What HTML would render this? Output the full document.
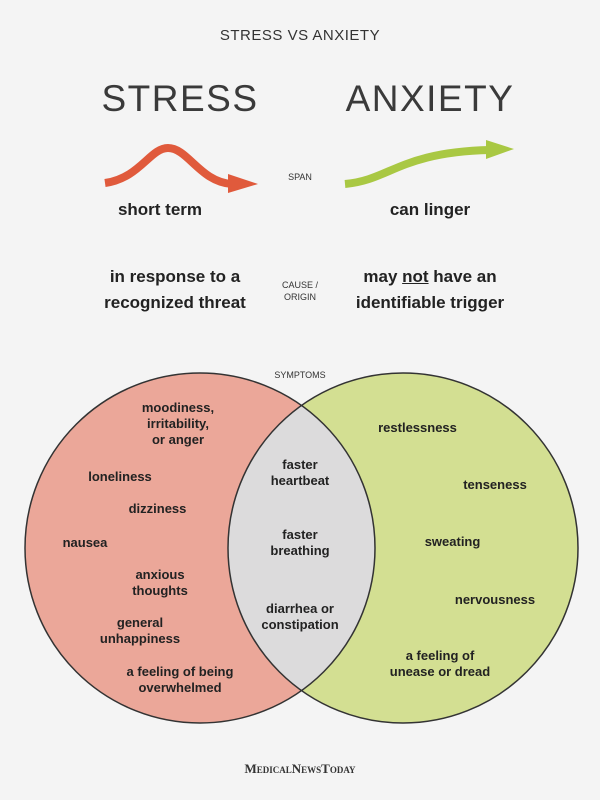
<!DOCTYPE html>
<html><head><meta charset="utf-8"><style>
html,body{margin:0;padding:0;background:#f4f4f4;}
body{width:600px;height:800px;position:relative;overflow:hidden;font-family:"Liberation Sans",sans-serif;color:#222;}
.t{position:absolute;text-align:center;white-space:nowrap;}
.b{font-weight:bold;}
</style></head><body>
<div class="t" style="left:0;width:600px;top:27px;font-size:15px;letter-spacing:0.5px;color:#333">STRESS VS ANXIETY</div>
<div class="t" style="left:80px;width:200px;top:78px;font-size:37px;letter-spacing:1.5px;color:#3a3a3a">STRESS</div>
<div class="t" style="left:330px;width:200px;top:78px;font-size:37px;letter-spacing:1.5px;color:#3a3a3a">ANXIETY</div>
<svg style="position:absolute;left:0;top:0" width="600" height="800">
<path d="M105,183 C140,178 150,148 168,148 C188,148 200,182 232,184" fill="none" stroke="#e05a3c" stroke-width="8"/>
<polygon points="228,174 258,184 228,193" fill="#e05a3c"/>
<path d="M345,184 C390,180 400,152 490,150" fill="none" stroke="#a9c843" stroke-width="8"/>
<polygon points="486,140 514,149 486,159" fill="#a9c843"/>
<circle cx="200" cy="548" r="175" fill="#eba799"/>
<circle cx="403" cy="548" r="175" fill="#d3df92"/>
<clipPath id="c"><circle cx="200" cy="548" r="175"/></clipPath>
<circle cx="403" cy="548" r="175" fill="#dcdbdc" clip-path="url(#c)"/>
<circle cx="200" cy="548" r="175" fill="none" stroke="#333" stroke-width="1.5"/>
<circle cx="403" cy="548" r="175" fill="none" stroke="#333" stroke-width="1.5"/>
</svg>
<div class="t" style="left:270px;width:60px;top:172px;font-size:9px;color:#333">SPAN</div>
<div class="t b" style="left:75px;width:170px;top:200px;font-size:17px">short term</div>
<div class="t b" style="left:345px;width:170px;top:200px;font-size:17px">can linger</div>
<div class="t b" style="left:75px;width:200px;top:264px;font-size:17px;line-height:26px">in response to a<br>recognized threat</div>
<div class="t" style="left:270px;width:60px;top:279px;font-size:9px;line-height:12px;color:#333">CAUSE /<br>ORIGIN</div>
<div class="t b" style="left:330px;width:200px;top:264px;font-size:17px;line-height:26px">may <u>not</u> have an<br>identifiable trigger</div>
<div class="t" style="left:250px;width:100px;top:370px;font-size:9px;color:#333">SYMPTOMS</div>
<div style="font-size:13px;font-weight:bold;line-height:16px;">
<div class="t" style="left:118px;width:120px;top:400px">moodiness,<br>irritability,<br>or anger</div>
<div class="t" style="left:80px;width:80px;top:469px">loneliness</div>
<div class="t" style="left:110px;width:95px;top:501px">dizziness</div>
<div class="t" style="left:50px;width:70px;top:535px">nausea</div>
<div class="t" style="left:110px;width:100px;top:567px">anxious<br>thoughts</div>
<div class="t" style="left:85px;width:110px;top:615px">general<br>unhappiness</div>
<div class="t" style="left:105px;width:150px;top:664px">a feeling of being<br>overwhelmed</div>
<div class="t" style="left:250px;width:100px;top:457px">faster<br>heartbeat</div>
<div class="t" style="left:250px;width:100px;top:527px">faster<br>breathing</div>
<div class="t" style="left:240px;width:120px;top:601px">diarrhea or<br>constipation</div>
<div class="t" style="left:360px;width:115px;top:420px">restlessness</div>
<div class="t" style="left:445px;width:100px;top:477px">tenseness</div>
<div class="t" style="left:405px;width:95px;top:534px">sweating</div>
<div class="t" style="left:440px;width:110px;top:592px">nervousness</div>
<div class="t" style="left:370px;width:140px;top:648px">a feeling of<br>unease or dread</div>
</div>
<div class="t" style="left:200px;width:200px;top:761px;font-family:'Liberation Serif',serif;font-size:13px;font-weight:bold;color:#333;font-variant:small-caps">MedicalNewsToday</div>
</body></html>
